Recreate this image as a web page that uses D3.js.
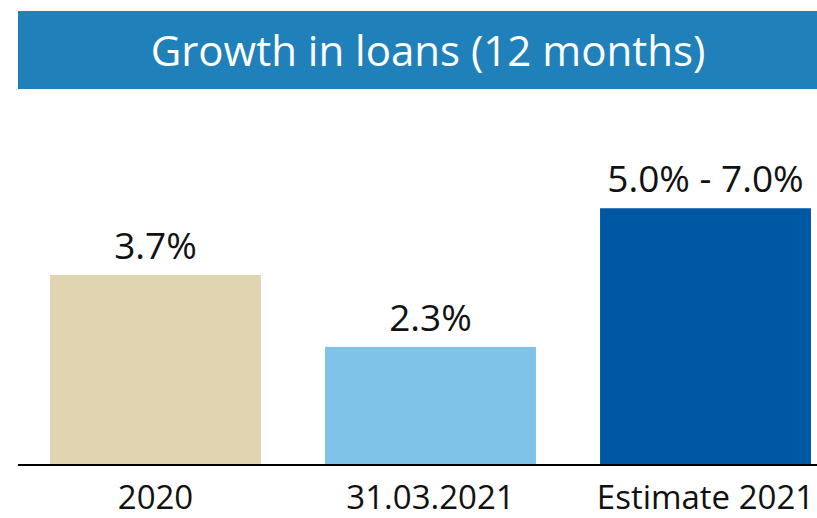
<!DOCTYPE html>
<html>
<head>
<meta charset="utf-8">
<script src="https://cdn.jsdelivr.net/npm/d3@7"></script>
<style>
  html, body { margin: 0; padding: 0; background: #fff; }
  svg { display: block; font-family: "Open Sans", sans-serif; }
</style>
</head>
<body>
<svg id="chart" width="817" height="518"></svg>
<script>
var title = 'Growth in loans (12 months)';
var categories = ['2020', '31.03.2021', 'Estimate 2021'];
var values = [3.7, 2.3, 5.0];
var valueLabels = ['3.7%', '2.3%', '5.0% - 7.0%'];
var colors = ['#e0d5b0', '#7fc4e8', '#0058a3'];

var svg = d3.select('#chart');
var baseY = 465;

// title banner
svg.append('rect')
  .attr('x', 18).attr('y', 11)
  .attr('width', 799).attr('height', 78)
  .attr('fill', '#2080ba');

svg.append('text')
  .attr('x', 428).attr('y', 66)
  .attr('text-anchor', 'middle')
  .attr('fill', '#fff')
  .style('font-size', '42px')
  .text(title);

var x = d3.scaleBand()
  .domain(categories)
  .range([18, 843])
  .paddingInner(0.233)
  .paddingOuter(0.1165);

var y = d3.scaleLinear()
  .domain([0, 3.7])
  .range([baseY, 275]);

svg.selectAll('rect.bar')
  .data(values)
  .enter().append('rect')
  .attr('class', 'bar')
  .attr('x', function (d, i) { return x(categories[i]); })
  .attr('y', function (d) { return y(d); })
  .attr('width', x.bandwidth())
  .attr('height', function (d) { return baseY - y(d); })
  .attr('fill', function (d, i) { return colors[i]; });

svg.selectAll('text.val')
  .data(values)
  .enter().append('text')
  .attr('class', 'val')
  .attr('x', function (d, i) { return x(categories[i]) + x.bandwidth() / 2; })
  .attr('y', function (d) { return y(d) - 16; })
  .attr('text-anchor', 'middle')
  .style('font-size', '37px')
  .attr('fill', '#111')
  .text(function (d, i) { return valueLabels[i]; });

// baseline
svg.append('line')
  .attr('x1', 18).attr('x2', 817)
  .attr('y1', baseY).attr('y2', baseY)
  .attr('stroke', '#000')
  .attr('stroke-width', 2);

var axis = d3.axisBottom(x).tickSize(0).tickPadding(0);
var g = svg.append('g')
  .attr('transform', 'translate(0,' + baseY + ')')
  .call(axis);
g.select('.domain').remove();
g.selectAll('text')
  .attr('dy', null)
  .attr('y', 44)
  .attr('fill', '#111')
  .style('font-size', '33px')
  .style('font-family', '"Open Sans", sans-serif');
</script>
</body>
</html>
